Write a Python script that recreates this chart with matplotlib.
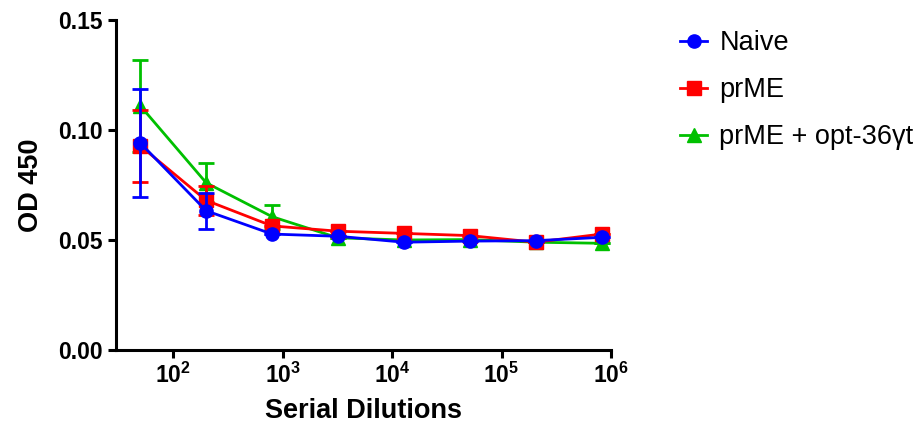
import matplotlib
matplotlib.use("Agg")
import matplotlib.pyplot as plt
from matplotlib.lines import Line2D

plt.rcParams['font.family'] = ['Liberation Sans', 'DejaVu Sans']
plt.rcParams['mathtext.fontset'] = 'custom'
plt.rcParams['mathtext.rm'] = 'Liberation Sans:bold'
plt.rcParams['mathtext.bf'] = 'Liberation Sans:bold'

# 4-fold serial dilutions starting at 1:50
dilutions = [50, 200, 800, 3200, 12800, 51200, 204800, 819200]

naive = [0.0941, 0.0633, 0.0527, 0.0517, 0.0490, 0.0495, 0.0497, 0.0512]
naive_err = [0.0244, 0.0081, 0, 0, 0, 0, 0, 0]

prme = [0.0928, 0.0680, 0.0564, 0.0540, 0.0530, 0.0520, 0.0490, 0.0527]
prme_err = [0.0163, 0.0066, 0, 0, 0, 0, 0, 0]

prme_opt = [0.1110, 0.0760, 0.0606, 0.0510, 0.0500, 0.0502, 0.0490, 0.0485]
prme_opt_err = [0.0210, 0.0089, 0.0054, 0, 0, 0, 0, 0]

xtick_vals = [1e2, 1e3, 1e4, 1e5, 1e6]
xtick_labels = [r'$\mathbf{10^{2}}$', r'$\mathbf{10^{3}}$', r'$\mathbf{10^{4}}$',
                r'$\mathbf{10^{5}}$', r'$\mathbf{10^{6}}$']
ytick_vals = [0.00, 0.05, 0.10, 0.15]

fig = plt.figure(figsize=(9.2, 4.3), dpi=100)
ax = fig.add_axes([116 / 920, 1 - 350 / 430, (611 - 116) / 920, 330 / 430])

series = [
    ("prME + opt-36\u03b3t", prme_opt, prme_opt_err, "#00C000", "^", 2),
    ("prME", prme, prme_err, "#FF0000", "s", 3),
    ("Naive", naive, naive_err, "#0000FF", "o", 4),
]
handles = {}
for label, vals, err, col, mk, z in series:
    ax.errorbar(dilutions, vals, yerr=err, color=col, marker=mk, markersize=9.5,
                lw=2, capsize=5.5, capthick=2, elinewidth=2,
                zorder=z, clip_on=False)
    handles[label] = Line2D([], [], color=col, marker=mk, markersize=9.5, lw=2)

ax.set_xscale('log')
ax.set_xlim(30, 1e6)
ax.set_ylim(0, 0.15)
ax.minorticks_off()
ax.set_xticks(xtick_vals, xtick_labels)
ax.set_yticks(ytick_vals, [f"{v:.2f}" for v in ytick_vals])
ax.tick_params(axis='both', labelsize=16.5, width=2.2, length=6)
for lab in ax.get_yticklabels():
    lab.set_fontweight('bold')

for s in ['top', 'right']:
    ax.spines[s].set_visible(False)
for s in ['left', 'bottom']:
    ax.spines[s].set_linewidth(2.2)

ax.set_xlabel("Serial Dilutions", fontsize=19.5, fontweight='bold', labelpad=7)
ax.set_ylabel("OD 450", fontsize=19.5, fontweight='bold', labelpad=10)

order = ["Naive", "prME", "prME + opt-36\u03b3t"]
fig.legend([handles[k] for k in order], order, loc='upper left',
           bbox_to_anchor=(680 / 920, 1 - 30 / 430), frameon=False, fontsize=19.5,
           handlelength=1.0, handletextpad=0.45, labelspacing=0.78,
           borderpad=0, borderaxespad=0)

fig.savefig("out.png", dpi=100)
